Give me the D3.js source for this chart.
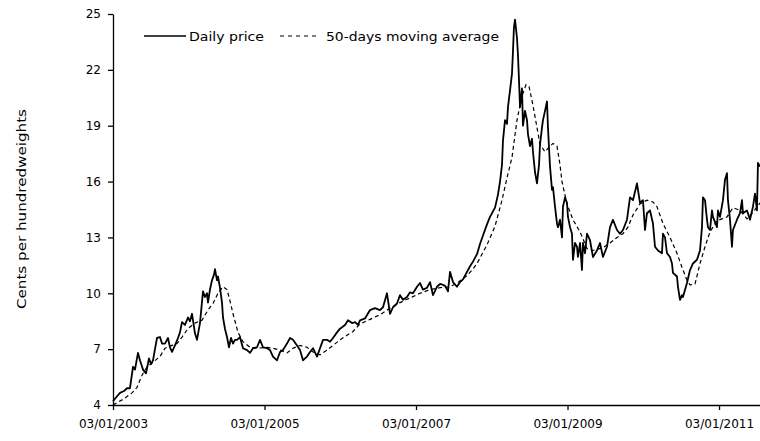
<!DOCTYPE html>
<html><head><meta charset="utf-8">
<script src="https://cdn.jsdelivr.net/npm/d3@7"></script>
<style>
body{margin:0;background:#fff;}
text{font-family:"DejaVu Sans",sans-serif;fill:#000;}
</style></head>
<body><svg id="chart" width="760" height="441"></svg>
<script>
// Time is in decimal years (2003.0 = 03/01/2003)
const priceT = [2003.000,2003.040,2003.092,2003.145,2003.185,2003.224,2003.264,2003.290,2003.330,2003.356,2003.396,2003.436,2003.475,2003.502,2003.528,2003.554,2003.581,2003.620,2003.647,2003.686,2003.726,2003.752,2003.779,2003.818,2003.858,2003.884,2003.911,2003.950,2003.990,2004.016,2004.043,2004.082,2004.109,2004.148,2004.188,2004.214,2004.241,2004.254,2004.280,2004.307,2004.333,2004.346,2004.373,2004.386,2004.412,2004.439,2004.452,2004.478,2004.505,2004.531,2004.558,2004.584,2004.610,2004.637,2004.676,2004.716,2004.769,2004.809,2004.848,2004.901,2004.941,2004.980,2005.033,2005.073,2005.112,2005.165,2005.205,2005.244,2005.297,2005.337,2005.376,2005.429,2005.469,2005.508,2005.535,2005.561,2005.601,2005.640,2005.693,2005.733,2005.772,2005.825,2005.865,2005.904,2005.957,2005.997,2006.063,2006.102,2006.155,2006.195,2006.234,2006.261,2006.327,2006.393,2006.459,2006.525,2006.564,2006.617,2006.657,2006.696,2006.749,2006.789,2006.828,2006.881,2006.921,2006.960,2007.013,2007.053,2007.092,2007.145,2007.185,2007.224,2007.277,2007.317,2007.356,2007.383,2007.422,2007.449,2007.488,2007.541,2007.581,2007.620,2007.673,2007.713,2007.752,2007.805,2007.845,2007.884,2007.937,2007.977,2008.016,2008.043,2008.082,2008.109,2008.135,2008.148,2008.175,2008.201,2008.214,2008.241,2008.267,2008.280,2008.293,2008.307,2008.320,2008.333,2008.346,2008.360,2008.373,2008.386,2008.399,2008.412,2008.439,2008.465,2008.478,2008.505,2008.531,2008.544,2008.571,2008.597,2008.624,2008.637,2008.663,2008.676,2008.703,2008.729,2008.742,2008.769,2008.795,2008.808,2008.835,2008.861,2008.874,2008.901,2008.927,2008.940,2008.967,2008.993,2009.006,2009.033,2009.059,2009.072,2009.099,2009.125,2009.138,2009.165,2009.191,2009.204,2009.231,2009.257,2009.297,2009.336,2009.389,2009.429,2009.468,2009.521,2009.561,2009.600,2009.653,2009.693,2009.732,2009.785,2009.825,2009.864,2009.917,2009.930,2009.957,2009.996,2010.023,2010.049,2010.089,2010.128,2010.155,2010.194,2010.247,2010.260,2010.287,2010.313,2010.353,2010.379,2010.392,2010.445,2010.458,2010.485,2010.511,2010.524,2010.577,2010.617,2010.656,2010.709,2010.749,2010.775,2010.788,2010.815,2010.841,2010.854,2010.881,2010.907,2010.920,2010.973,2010.986,2011.013,2011.052,2011.079,2011.105,2011.118,2011.145,2011.171,2011.184,2011.237,2011.277,2011.303,2011.316,2011.369,2011.409,2011.448,2011.475,2011.501,2011.514,2011.541];
const priceV = [4.2,4.4,4.65,4.75,4.9,4.9,6.05,5.9,6.8,6.4,5.9,5.7,6.5,6.2,6.4,7.0,7.6,7.65,7.3,7.3,7.6,7.1,6.85,7.2,7.6,7.9,8.45,8.3,8.7,8.5,8.9,7.85,7.5,8.4,10.1,9.8,10.0,9.5,10.2,10.7,11.0,11.3,10.7,10.9,10.3,9.5,8.7,8.1,7.65,7.1,7.6,7.3,7.5,7.5,7.65,7.05,6.95,6.8,7.05,7.1,7.5,7.1,7.05,6.95,6.6,6.4,6.85,6.95,7.3,7.6,7.5,7.2,6.95,6.4,6.5,6.6,6.85,7.05,6.6,7.05,7.5,7.5,7.4,7.6,7.9,8.1,8.3,8.55,8.4,8.45,8.3,8.55,8.65,9.1,9.2,9.1,9.25,10.0,8.9,9.25,9.45,9.9,9.65,9.8,10.05,10.0,10.35,10.55,10.2,10.3,10.6,9.9,10.35,10.5,10.45,10.4,10.1,11.15,10.6,10.35,10.6,10.75,11.15,11.45,11.7,12.1,12.65,13.1,13.7,14.1,14.4,14.6,15.3,16.0,16.9,18.2,19.3,19.1,20.0,20.9,21.8,23.0,24.3,24.7,24.2,23.7,22.8,21.4,20.0,20.5,21.0,19.0,19.8,19.3,18.55,17.9,18.3,17.6,16.5,15.9,16.9,18.0,18.9,19.3,19.8,20.3,18.9,16.8,15.55,15.7,14.65,13.75,13.55,13.95,13.0,14.65,15.15,14.85,14.1,13.55,13.2,11.8,12.7,12.5,11.95,12.7,11.25,12.7,12.15,13.2,12.85,11.95,12.3,12.7,11.95,12.5,13.55,13.95,13.4,13.2,13.4,13.95,15.15,15.0,15.9,15.55,14.85,15.0,13.4,14.3,14.45,13.75,12.5,12.3,12.15,13.2,13.0,12.15,11.95,11.6,11.1,10.9,10.35,9.65,9.9,9.8,10.55,11.25,11.6,11.8,12.3,13.55,15.15,15.0,13.95,13.55,13.4,14.45,14.1,13.55,14.45,14.1,15.0,16.1,16.45,15.0,13.95,12.5,13.4,13.95,14.3,15.0,14.3,14.45,13.95,14.65,15.35,14.45,17.0,16.8];

const maT = [2003.000,2003.132,2003.251,2003.317,2003.383,2003.449,2003.528,2003.620,2003.686,2003.779,2003.845,2003.911,2003.990,2004.082,2004.175,2004.254,2004.320,2004.386,2004.452,2004.505,2004.544,2004.584,2004.624,2004.650,2004.716,2004.809,2004.901,2005.033,2005.112,2005.205,2005.297,2005.376,2005.469,2005.561,2005.640,2005.733,2005.825,2005.904,2005.997,2006.089,2006.168,2006.261,2006.393,2006.525,2006.657,2006.789,2006.921,2007.053,2007.185,2007.317,2007.449,2007.541,2007.673,2007.752,2007.805,2007.937,2008.043,2008.135,2008.201,2008.267,2008.333,2008.399,2008.452,2008.492,2008.544,2008.597,2008.637,2008.703,2008.769,2008.808,2008.861,2008.901,2008.927,2008.993,2009.072,2009.165,2009.257,2009.336,2009.468,2009.561,2009.653,2009.732,2009.798,2009.864,2009.957,2010.049,2010.128,2010.181,2010.260,2010.353,2010.445,2010.511,2010.577,2010.617,2010.683,2010.749,2010.815,2010.881,2010.973,2011.105,2011.184,2011.277,2011.369,2011.448,2011.541];
const maV = [4.0,4.3,4.65,4.95,5.6,6.05,6.3,6.6,7.05,7.2,7.3,7.65,8.1,8.4,8.55,9.1,9.45,10.0,10.35,10.2,9.6,8.9,8.3,7.9,7.4,7.1,7.05,7.1,7.05,6.95,6.8,7.05,7.2,7.1,6.85,6.7,6.95,7.2,7.5,7.75,7.95,8.35,8.6,8.85,9.2,9.5,9.75,10.0,10.2,10.3,10.35,10.55,10.95,11.3,11.6,12.6,13.6,15.0,16.2,17.3,19.3,20.6,21.2,21.1,20.1,18.9,18.0,17.6,17.9,18.05,17.9,16.9,16.0,14.8,13.95,13.3,12.4,12.3,12.45,12.7,13.0,13.2,13.55,14.2,14.8,15.0,14.9,14.65,13.75,13.0,12.15,11.4,10.7,10.45,10.5,11.6,12.5,13.3,13.9,14.1,14.6,14.45,14.0,14.35,14.85];

const yTicks = [4,7,10,13,16,19,22,25];
const xTicks = [2003,2005,2007,2009,2011];
const xLabels = ["03/01/2003","03/01/2005","03/01/2007","03/01/2009","03/01/2011"];
const seriesNames = ["Daily price","50-days moving average"];
const yTitle = "Cents per hundredweights";

const svg = d3.select("#chart");
const L = 113, R = 760, T = 14, B = 405;
const x = d3.scaleLinear().domain([2003, 2011.541]).range([L, R]);
const y = d3.scaleLinear().domain([4, 25]).range([B, T]);

const price = d3.zip(priceT, priceV);
const ma = d3.zip(maT, maV);
const line = d3.line().x(d => x(d[0])).y(d => y(d[1]));

svg.append("path").datum(ma).attr("d", line)
  .attr("fill","none").attr("stroke","#000").attr("stroke-width",1.2)
  .attr("stroke-dasharray","4,3");
svg.append("path").datum(price).attr("d", line)
  .attr("fill","none").attr("stroke","#000").attr("stroke-width",1.8)
  .attr("stroke-linejoin","round");

const yAxis = svg.append("g").attr("transform",`translate(${L},0)`)
  .call(d3.axisLeft(y).tickValues(yTicks).tickSize(5).tickSizeOuter(0).tickPadding(7));
const xAxis = svg.append("g").attr("transform",`translate(0,${B})`)
  .call(d3.axisBottom(x).tickValues(xTicks).tickFormat((d,i)=>xLabels[i]).tickSize(5).tickSizeOuter(0).tickPadding(9));
[yAxis,xAxis].forEach(g=>{
  g.selectAll("path,line").attr("stroke","#000").attr("stroke-width",1.3);
  g.selectAll("text").attr("font-size",12).attr("font-family","DejaVu Sans");
});

svg.append("text").attr("transform","translate(26,209) rotate(-90)")
  .attr("text-anchor","middle").attr("font-size",12.5)
  .attr("textLength",200).attr("lengthAdjust","spacingAndGlyphs").text(yTitle);

// legend
const lg = svg.append("g");
lg.append("line").attr("x1",144).attr("x2",186).attr("y1",36).attr("y2",36)
  .attr("stroke","#000").attr("stroke-width",1.3);
lg.append("text").attr("x",189).attr("y",40.5).attr("font-size",12.5)
  .attr("textLength",75).attr("lengthAdjust","spacingAndGlyphs").text(seriesNames[0]);
lg.append("line").attr("x1",280).attr("x2",320).attr("y1",36).attr("y2",36)
  .attr("stroke","#000").attr("stroke-width",1.2).attr("stroke-dasharray","4,4");
lg.append("text").attr("x",326).attr("y",40.5).attr("font-size",12.5)
  .attr("textLength",173).attr("lengthAdjust","spacingAndGlyphs").text(seriesNames[1]);
</script></body></html>
